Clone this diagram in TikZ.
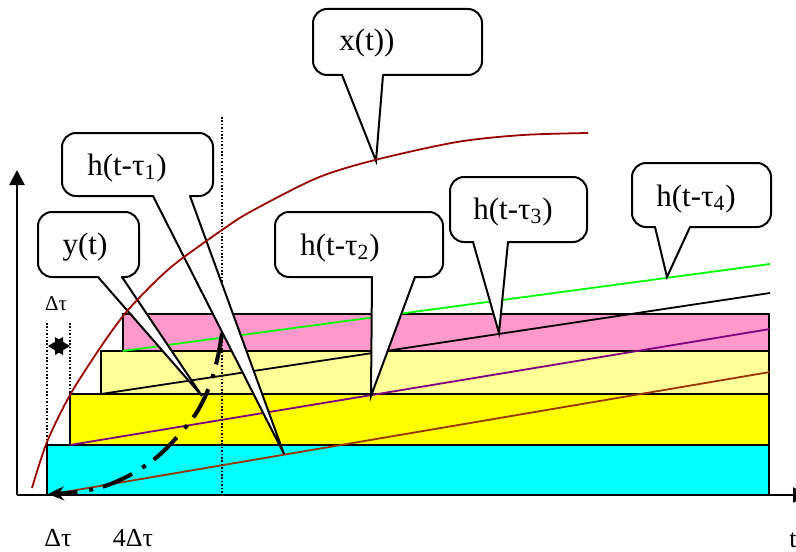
\documentclass[tikz,border=0pt]{standalone}
\usepackage{fontspec}
\setmainfont{Liberation Serif}
\usetikzlibrary{arrows.meta}
\definecolor{cyanbar}{RGB}{0,255,255}
\definecolor{yellowbar}{RGB}{255,255,0}
\definecolor{paleyellow}{RGB}{255,255,153}
\definecolor{pinkbar}{RGB}{255,153,204}
\definecolor{brownline}{RGB}{153,51,0}
\definecolor{purpleline}{RGB}{128,0,128}
\definecolor{greenline}{RGB}{0,255,0}
\definecolor{inputline}{RGB}{153,0,0}
\tikzset{
  bar/.style={
    draw=black,
    line width=0.85pt
  },
  ramp/.style={
    line width=0.9pt
  },
  guide/.style={
    line width=0.8pt,
    dash pattern=on 0.8pt off 0.9pt
  },
  axis/.style={
    line width=1.1pt,
    -{Triangle[length=7.5pt,width=7.5pt]}
  },
  balloon/.style={
    draw=black,
    line width=1pt,
    line cap=round
  },
  lab/.style={
    inner sep=0pt,
    font=\fontsize{15.5}{18}\selectfont
  },
  ticklab/.style={
    inner sep=0pt,
    font=\fontsize{13}{15}\selectfont
  },
  smalllab/.style={
    inner sep=0pt,
    font=\fontsize{10.5}{12}\selectfont
  }
}
% box corners, tail base, tail tip
\newcommand\callout[7]{%
  \fill[white,rounded corners=7pt] (#1,#2) rectangle (#3,#4);
  \fill[white] (#5,#4-3) -- (#7) -- (#6,#4-3) -- cycle;
  \draw[balloon,rounded corners=7pt] (#5,#4) -- (#1,#4) -- (#1,#2) -- (#3,#2) -- (#3,#4) -- (#6,#4);
  \draw[balloon] (#6,#4) -- (#7) -- (#5,#4);}

\begin{document}
\begin{tikzpicture}[x=0.5pt,y=-0.5pt]
  \useasboundingbox (0,0) rectangle (796,551);
  \coordinate (o) at (17,495);
  \coordinate (tipx) at (376,161);
  \coordinate (tipa) at (284,454);
  \coordinate (tipy) at (202,396);
  \coordinate (tipb) at (371,396);
  \coordinate (tipc) at (499,333);
  \coordinate (tipd) at (667,277);
  % step width guides
  \draw[guide] (47,323) -- (47,495);
  \draw[guide] (70,323) -- (70,495);
  \foreach \l/\t/\b/\c in {47/445/495/cyanbar,70/394/445/yellowbar,101/351/394/paleyellow,123/314/351/pinkbar}{
    \draw[bar,fill=\c] (\l,\t) rectangle (769,\b);
  }
  \foreach \x/\y/\yy/\c in {47/495/372/brownline,70/445/329/purpleline,101/394/293/black,123/351/264/greenline}{
    \draw[ramp,\c] (\x,\y) -- (770,\yy);
  }
  \draw[guide] (222,117) -- (222,495);
  \draw[axis] (o) -- (17,170);
  \draw[axis] (o) -- (808,495);
  \fill (48,346) -- (63,337) -- (63,355) -- cycle;
  \fill (70,346) -- (55,337) -- (55,355) -- cycle;
  % callouts
  \callout{313}{9}{482}{75}{342}{383}{tipx}
  \callout{62}{133}{213}{196}{153}{190}{tipa}
  \callout{38}{212}{139}{277}{98}{122}{tipy}
  \callout{275}{212}{443}{277}{372}{415}{tipb}
  \callout{450}{177}{587}{242}{473}{508}{tipc}
  \callout{632}{163}{771}{227}{655}{690}{tipd}
  % output
  \draw[line width=2pt,dash pattern=on 16pt off 5pt on 2pt off 6pt,-{Stealth[length=8pt,width=7pt]}]
    plot[smooth] coordinates {(222,333) (218,356) (210,385) (197,412) (178,436) (157,457) (132,474) (105,486) (78,492) (48,494)};
  % input
  \draw[ramp,inputline] plot[smooth] coordinates {(32,488) (47,442) (70,395) (100,348) (123,316) (140,297) (160,277) (180,260) (222,230) (250,212) (317,178) (375,160) (457,142) (523,135) (588,133)};
  \node[lab] (xl) at (367,43) {x(t))};
  \node[lab] (h1) at (127,168) {h(t-τ\textsubscript{1})};
  \node[lab] (yl) at (85,247) {y(t)};
  \node[lab] (h2) at (340,248) {h(t-τ\textsubscript{2})};
  \node[lab] (h3) at (513,212) {h(t-τ\textsubscript{3})};
  \node[lab] (h4) at (696,199) {h(t-τ\textsubscript{4})};
  \node[smalllab] (dt) at (56,304) {Δτ};
  \node[ticklab] (t1) at (58,538) {Δτ};
  \node[ticklab] (t4) at (133,538) {4Δτ};
  \node[ticklab,anchor=west] (tl) at (789,540) {t};
\end{tikzpicture}
\end{document}
